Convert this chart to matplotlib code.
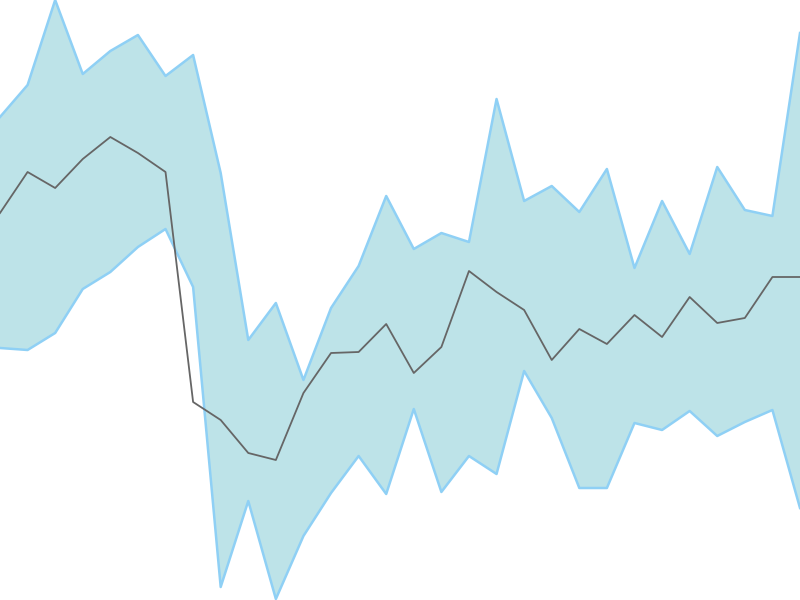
import numpy as np
from matplotlib import pyplot as plt

# values (0 = bottom edge, 600 = top edge)
steps = list(range(30))
upper = [483, 515, 600, 526, 549, 565, 524, 545, 427, 260,
         297, 220, 292, 334, 404, 351, 367, 358, 501, 399,
         414, 388, 431, 332, 399, 346, 433, 390, 384, 567]
middle = [387, 428, 412, 441, 463, 447, 428, 198, 180, 147,
          140, 207, 247, 248, 276, 227, 253, 329, 308, 290,
          240, 271, 256, 285, 263, 303, 277, 282, 323, 323]
lower = [252, 250, 267, 311, 328, 353, 371, 313, 13, 99,
         1, 64, 107, 144, 106, 191, 108, 144, 126, 229,
         182, 112, 112, 177, 170, 189, 164, 178, 190, 92]


def main():
    fig = plt.figure(figsize=(8, 6), dpi=100)
    ax = fig.add_axes([0, 0, 1, 1])

    x = np.array(steps)
    # band between upper and lower bound
    ax.fill_between(x, lower, upper, color='#bde3e8', linewidth=0)
    ax.plot(x, upper, color='#8fd0f5', linewidth=1.8)
    ax.plot(x, lower, color='#8fd0f5', linewidth=1.8)
    # centre line
    ax.plot(x, middle, color='#666666', linewidth=1.3)

    ax.set_xlim(0, 29)
    ax.set_ylim(0, 600)
    ax.axis('off')

    fig.savefig('out.png', dpi=100)


main()
